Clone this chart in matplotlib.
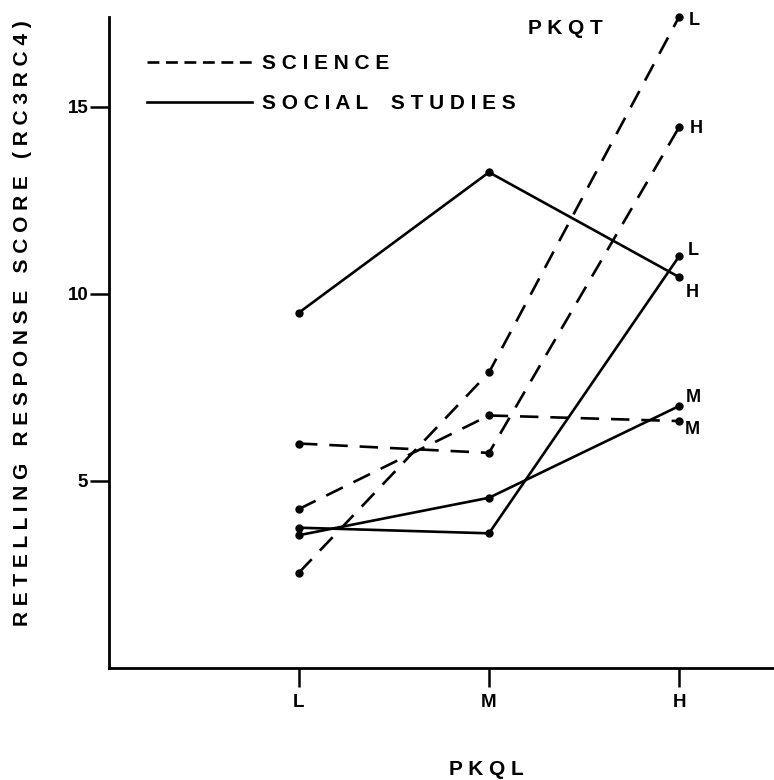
import matplotlib
matplotlib.use("Agg")
import matplotlib.pyplot as plt
from matplotlib.lines import Line2D

# ---- data ----
pkql_levels = ["L", "M", "H"]
y_ticks = [5, 10, 15]

science_L = [2.55, 7.9, 17.4]
science_H = [6.0, 5.75, 14.45]
science_M = [4.25, 6.75, 6.6]

social_H = [9.5, 13.25, 10.45]
social_L = [3.75, 3.6, 11.0]
social_M = [3.55, 4.55, 7.0]

def spaced(s, wgap=3):
    return (" " * wgap).join(" ".join(w) for w in s.split(" "))

plt.rcParams["font.family"] = ["Liberation Sans", "DejaVu Sans"]
plt.rcParams["font.weight"] = "bold"

fig = plt.figure(figsize=(7.74, 7.80), dpi=100)
ax = fig.add_axes([109/774, (780-668)/780, 1-109/774, (668-17)/780])

x = list(range(len(pkql_levels)))
lw = 1.9
ms = 5
dash = (0, (7, 4.5))

series = [
    (science_L, dash, "L", (7, -2.5)),
    (science_H, dash, "H", (8, -1)),
    (science_M, dash, "M", (4, -6)),
    (social_H, "-", "H", (5, -11)),
    (social_L, "-", "L", (6, 4)),
    (social_M, "-", "M", (5, 6.5)),
]
for vals, ls, lab, off in series:
    ax.plot(x, vals, color="black", linestyle=ls, linewidth=lw,
            marker="o", markersize=ms, clip_on=False)
    ax.annotate(lab, xy=(x[-1], vals[-1]), xytext=off, textcoords="offset points",
                ha="left", va="center", fontsize=13, fontweight="bold",
                annotation_clip=False)

ax.set_xlim(-1, 2.5)
ax.set_ylim(0, 17.4)
ax.set_xticks(x)
ax.set_xticklabels(pkql_levels)
ax.set_yticks(y_ticks)
ax.spines["top"].set_visible(False)
ax.spines["right"].set_visible(False)
for s in ("left", "bottom"):
    ax.spines[s].set_linewidth(2)
ax.tick_params(axis="both", direction="out", length=14, width=1.8,
               labelsize=13.5)
ax.tick_params(axis="y", pad=1)
ax.tick_params(axis="x", pad=5)

ax.set_ylabel(spaced("RETELLING RESPONSE SCORE (RC3RC4)"), fontsize=15,
              fontweight="bold")
ax.yaxis.set_label_coords(-0.116, 0.53)
ax.set_xlabel(spaced("PKQL"), fontsize=15, fontweight="bold")
ax.xaxis.set_label_coords(0.568, -0.141)

ax.text(0.687, 0.983, spaced("PKQT"), transform=ax.transAxes, ha="center",
        va="center", fontsize=15, fontweight="bold")

handles = [
    Line2D([], [], color="black", linestyle=(0, (4.5, 2.5)), linewidth=lw),
    Line2D([], [], color="black", linestyle="-", linewidth=lw),
]
ax.legend(handles, [spaced("SCIENCE"), spaced("SOCIAL STUDIES", 4)],
          loc="upper left", bbox_to_anchor=(147/774, 1-54/780),
          bbox_transform=fig.transFigure, frameon=False,
          handlelength=5.05, handletextpad=0.45, labelspacing=1.0,
          borderpad=0, borderaxespad=0,
          prop={"size": 15, "weight": "bold"})

fig.savefig("out.png", dpi=100)
